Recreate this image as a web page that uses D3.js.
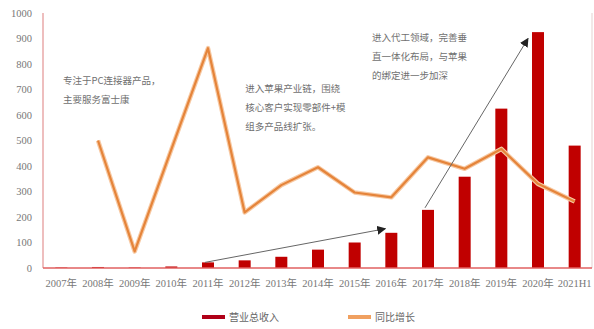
<!DOCTYPE html>
<html>
<head>
<meta charset="utf-8">
<script src="https://cdn.jsdelivr.net/npm/d3@7"></script>
<style>
  html, body { margin: 0; padding: 0; background: #fff; }
  svg { display: block; }
</style>
</head>
<body>
<svg id="chart" width="594" height="329"></svg>
<script>
// Years on the x axis
const categories = ["2007年","2008年","2009年","2010年","2011年","2012年","2013年","2014年","2015年","2016年","2017年","2018年","2019年","2020年","2021H1"];
// 营业总收入 (bars)
const revenue = [2, 4, 2, 6, 22, 30, 44, 72, 100, 138, 228, 358, 625, 925, 480];
// 同比增长 (line); 2007 has no prior-year figure
const growth = [null, 500, 65, 465, 862, 218, 325, 395, 296, 277, 434, 389, 467, 330, 261];
// Left axis ticks
const yTicks = [0, 100, 200, 300, 400, 500, 600, 700, 800, 900, 1000];

// Stage notes (anchored to a category and a value) and trend arrows
const notes = [
  { cat: "2007年", value: 721, lines: ["专注于PC连接器产品，", "主要服务富士康"] },
  { cat: "2012年", value: 690, lines: ["进入苹果产业链，围绕", "核心客户实现零部件+模", "组多产品线扩张。"] },
  { cat: "2016年", value: 890, lines: ["进入代工领域，完善垂", "直一体化布局，与苹果", "的绑定进一步加深"] }
];
const noteShift = [20, 19, -1];
const arrows = [
  { from: ["2011年", 22], to: ["2016年", 154] },
  { from: ["2017年", 236], to: ["2020年", 900] }
];

const svg = d3.select("#chart");
const margin = { left: 43, right: 1, top: 13, bottom: 61 };
const W = 594, H = 329;

const x = d3.scaleBand().domain(categories)
  .range([margin.left, W - margin.right]).paddingInner(0).paddingOuter(0);
const y = d3.scaleLinear().domain([0, 1000]).range([H - margin.bottom, margin.top]);

const serif = "'Liberation Serif', 'Noto Sans CJK SC', serif";
const cjk = "'Noto Sans CJK SC', sans-serif";

// Y axis labels
const yAxis = d3.axisLeft(y).tickValues(yTicks).tickFormat(d3.format("d")).tickSize(0).tickPadding(11);
svg.append("g")
  .attr("transform", `translate(${margin.left},0)`)
  .call(yAxis)
  .call(g => g.select(".domain").remove())
  .selectAll("text")
  .attr("font-family", serif).attr("font-size", 10.5).attr("fill", "#777");

// Plot frame: left and right verticals
svg.append("line")
  .attr("x1", margin.left).attr("x2", margin.left)
  .attr("y1", y(1000)).attr("y2", y(0))
  .attr("stroke", "#e8a8a8").attr("stroke-width", 1.5);
svg.append("line")
  .attr("x1", W - margin.right - 1).attr("x2", W - margin.right - 1)
  .attr("y1", y(1000)).attr("y2", y(0))
  .attr("stroke", "#eee0e0").attr("stroke-width", 1.5);

// Bars
const barW = 12;
svg.append("g").selectAll("rect")
  .data(categories.map((c, i) => ({ c, v: revenue[i] })))
  .join("rect")
  .attr("x", d => x(d.c) + x.bandwidth() / 2 - barW / 2)
  .attr("width", barW)
  .attr("y", d => y(d.v))
  .attr("height", d => y(0) - y(d.v))
  .attr("fill", "#c00000");

// X axis baseline and labels
svg.append("line")
  .attr("x1", margin.left).attr("x2", W - margin.right - 1)
  .attr("y1", y(0)).attr("y2", y(0))
  .attr("stroke", "#e06060").attr("stroke-width", 1.5);
const xAxis = d3.axisBottom(x).tickSize(0).tickPadding(12);
svg.append("g")
  .attr("transform", `translate(0,${y(0)})`)
  .call(xAxis)
  .call(g => g.select(".domain").remove())
  .selectAll("text")
  .attr("font-family", serif).attr("font-size", 10.5).attr("fill", "#777");

// Growth line
const line = d3.line()
  .defined(d => d.v != null)
  .x(d => x(d.c) + x.bandwidth() / 2)
  .y(d => y(d.v));
const lineData = categories.map((c, i) => ({ c, v: growth[i] }));
svg.append("path").datum(lineData)
  .attr("d", line).attr("fill", "none")
  .attr("stroke", "#f7c9a3").attr("stroke-width", 4.5).attr("stroke-linejoin", "round");
svg.append("path").datum(lineData)
  .attr("d", line).attr("fill", "none")
  .attr("stroke", "#e5843a").attr("stroke-width", 2.2).attr("stroke-linejoin", "round");

// Trend arrows
svg.append("defs").append("marker")
  .attr("id", "head").attr("viewBox", "0 0 10 10")
  .attr("refX", 9).attr("refY", 5)
  .attr("markerWidth", 9).attr("markerHeight", 9)
  .attr("markerUnits", "userSpaceOnUse")
  .attr("orient", "auto")
  .append("path").attr("d", "M0,0 L10,5 L0,10 z").attr("fill", "#222");
const cx = c => x(c) + x.bandwidth() / 2;
const arrowEnds = [
  [[cx(arrows[0].from[0]) - 3, y(arrows[0].from[1])], [cx(arrows[0].to[0]) - 6, y(arrows[0].to[1])]],
  [[cx(arrows[1].from[0]) - 3, y(arrows[1].from[1])], [cx(arrows[1].to[0]) - 10, y(arrows[1].to[1])]]
];
svg.append("g").selectAll("line")
  .data(arrowEnds)
  .join("line")
  .attr("x1", d => d[0][0]).attr("y1", d => d[0][1])
  .attr("x2", d => d[1][0]).attr("y2", d => d[1][1])
  .attr("stroke", "#666").attr("stroke-width", 1)
  .attr("marker-end", "url(#head)");

// Notes
const noteG = svg.append("g");
notes.forEach((n, k) => {
  const nx = x(n.cat) + noteShift[k];
  const t = noteG.append("text")
    .attr("x", nx)
    .attr("y", y(n.value))
    .attr("font-family", cjk).attr("font-size", 9.5).attr("fill", "#707070");
  n.lines.forEach((s, i) => {
    t.append("tspan").attr("x", nx).attr("dy", i === 0 ? 0 : 19).text(s);
  });
});

// Legend
const legend = [
  { label: "营业总收入", color: "#b00018", x: 202 },
  { label: "同比增长", color: "#f0a060", x: 348 }
];
const lg = svg.append("g");
legend.forEach(l => {
  lg.append("line")
    .attr("x1", l.x).attr("x2", l.x + 23)
    .attr("y1", 317).attr("y2", 317)
    .attr("stroke", l.color).attr("stroke-width", 4);
  lg.append("text")
    .attr("x", l.x + 27).attr("y", 321)
    .attr("font-family", cjk).attr("font-size", 10).attr("fill", "#666")
    .text(l.label);
});
</script>
</body>
</html>
